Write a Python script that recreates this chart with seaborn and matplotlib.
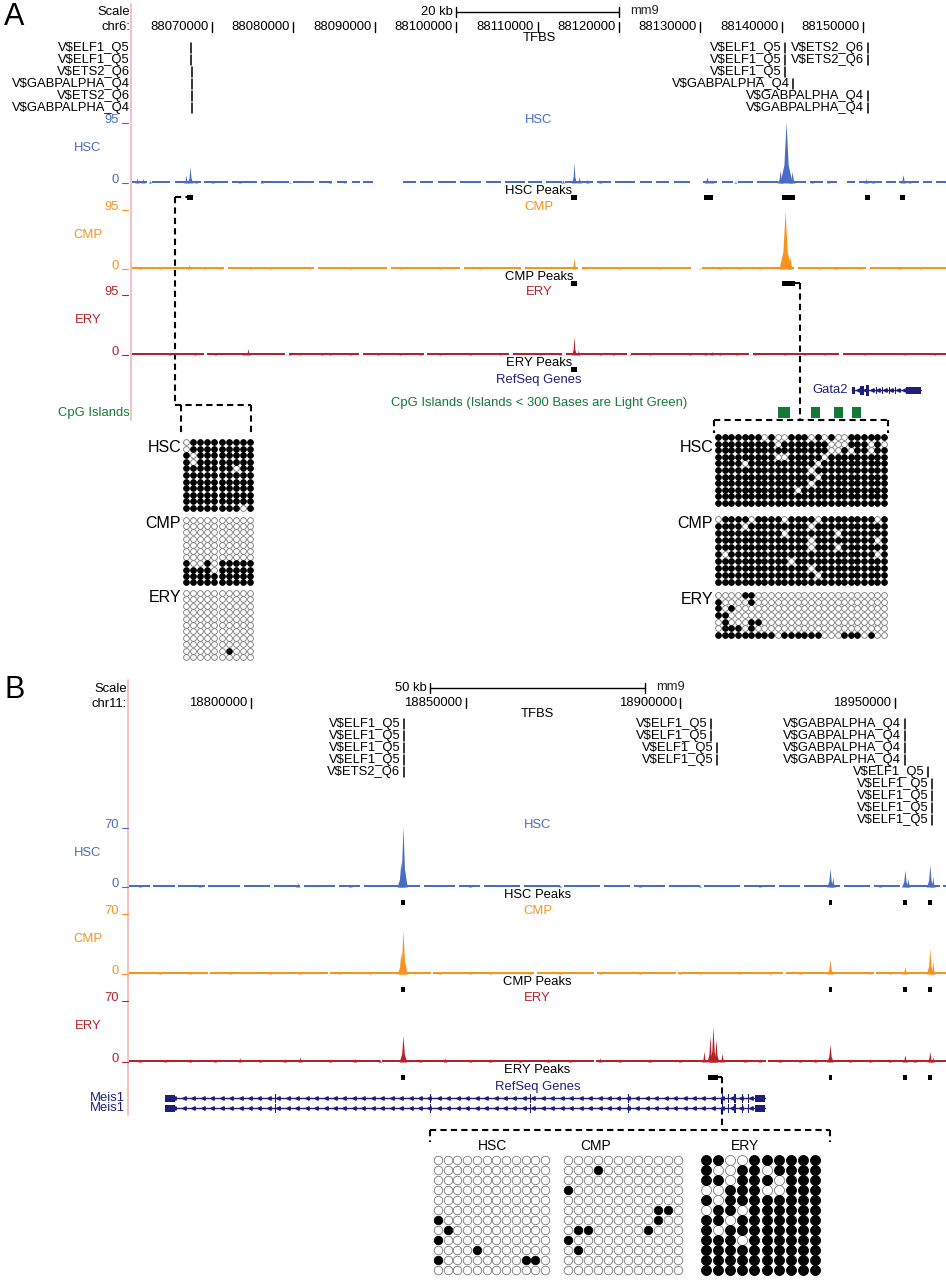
import numpy as np
import pandas as pd
import matplotlib
matplotlib.use("Agg")
import matplotlib.pyplot as plt
import seaborn as sns
from matplotlib.patches import Rectangle

# ======================= DATA =======================
# ---- Panel A : chr6 (positions in kb) ----
A_RANGE = (88060.17, 88160.17)
A_TICKS = [88070, 88080, 88090, 88100, 88110, 88120, 88130, 88140, 88150]
A_SCALE_START, A_SCALE_LEN = 88100.0, 20
A_TFBS_L_NAMES = ["V$ELF1_Q5", "V$ELF1_Q5", "V$ETS2_Q6", "V$GABPALPHA_Q4", "V$ETS2_Q6", "V$GABPALPHA_Q4"]
A_TFBS_L_POS = [88067.42, 88067.42, 88067.60, 88067.60, 88067.60, 88067.60]
A_TFBS_R_NAMES = ["V$ELF1_Q5", "V$ETS2_Q6", "V$ELF1_Q5", "V$ETS2_Q6", "V$ELF1_Q5",
                  "V$GABPALPHA_Q4", "V$GABPALPHA_Q4", "V$GABPALPHA_Q4"]
A_TFBS_R_POS = [88140.39, 88150.59, 88140.39, 88150.59, 88140.39, 88141.38, 88150.59, 88150.59]
A_TFBS_R_ROW = [0, 0, 1, 1, 2, 3, 4, 5]

A_MAX = 95
A_HSC_COV = [(88060.2, 88062.0), (88062.6, 88064.8), (88065.5, 88068.6), (88069.0, 88072.0),
             (88072.5, 88075.5), (88076.0, 88079.5), (88080.0, 88082.5), (88083.2, 88084.8),
             (88085.3, 88086.6), (88087.2, 88088.2), (88088.6, 88089.8), (88093.5, 88095.0),
             (88095.6, 88097.2), (88097.8, 88100.0), (88100.5, 88103.0), (88103.6, 88105.5),
             (88106.0, 88108.4), (88108.8, 88110.5), (88111.0, 88113.0), (88113.4, 88116.8),
             (88117.3, 88119.0), (88119.5, 88122.0), (88122.6, 88124.0), (88124.6, 88126.2),
             (88126.8, 88128.7), (88130.3, 88132.0), (88132.6, 88134.0), (88134.6, 88136.5),
             (88137.0, 88139.5), (88139.8, 88143.0), (88143.5, 88145.0), (88145.5, 88146.8),
             (88148.0, 88149.0), (88149.5, 88152.3), (88152.8, 88154.0), (88154.4, 88156.8),
             (88157.3, 88158.5), (88159.0, 88160.2)]
A_HSC_PK_POS = [88060.79, 88061.52, 88062.38, 88066.80, 88067.30, 88068.03, 88070.10, 88073.40,
                88076.10, 88079.60, 88084.50, 88086.30, 88113.10, 88114.47, 88115.10, 88116.10,
                88117.70, 88130.80, 88131.40, 88134.30, 88139.80, 88140.52, 88141.26, 88143.70,
                88145.70, 88150.34, 88151.20, 88154.89, 88155.70]
A_HSC_PK_H = [8, 7, 4, 12, 26, 5, 4, 3, 4, 2, 3, 2, 5, 32, 10, 6, 3, 10, 5, 3, 20, 95, 18, 3, 3, 7, 4, 13, 3]
A_HSC_PK_W = [0.3, 0.3, 0.25, 0.3, 0.35, 0.25, 0.25, 0.25, 0.25, 0.2, 0.25, 0.2, 0.3, 0.3, 0.3, 0.25,
              0.25, 0.35, 0.3, 0.25, 0.4, 0.75, 0.4, 0.25, 0.25, 0.3, 0.25, 0.35, 0.25]

A_CMP_COV = [(88060.2, 88071.5), (88072.0, 88082.5), (88083.0, 88091.5), (88092.0, 88100.5),
             (88101.0, 88108.0), (88108.5, 88115.0), (88115.5, 88128.8), (88130.2, 88141.5),
             (88142.0, 88150.3), (88150.8, 88160.2)]
A_CMP_PK_POS = [88061.15, 88063.60, 88067.17, 88069.10, 88071.00, 88074.70, 88077.10, 88082.00,
                88087.00, 88093.10, 88098.00, 88102.90, 88107.80, 88114.47, 88115.60, 88120.10,
                88125.00, 88129.90, 88132.40, 88134.90, 88137.30, 88140.40, 88141.00, 88144.70,
                88146.66, 88149.60, 88150.80, 88154.50, 88157.00]
A_CMP_PK_H = [3, 2, 7, 2, 2, 2, 2, 1.8, 2, 2, 2, 2, 2, 18, 3, 2, 2, 2, 3, 2, 2, 92, 20, 2, 5, 2, 2, 4, 2]
A_CMP_PK_W = [0.25, 0.2, 0.3, 0.2, 0.2, 0.2, 0.2, 0.2, 0.2, 0.2, 0.2, 0.2, 0.2, 0.3, 0.25, 0.2,
              0.2, 0.2, 0.25, 0.2, 0.2, 0.75, 0.4, 0.2, 0.3, 0.2, 0.2, 0.25, 0.2]

A_ERY_COV = [(88060.2, 88069.0), (88069.4, 88079.0), (88079.5, 88088.0), (88088.5, 88096.0),
             (88096.4, 88106.5), (88107.0, 88113.0), (88113.5, 88121.0), (88121.5, 88136.0),
             (88136.5, 88147.0), (88147.5, 88160.2)]
A_ERY_PK_POS = [88064.80, 88067.90, 88070.40, 88073.90, 88074.42, 88079.60, 88080.80, 88083.50,
                88084.50, 88087.00, 88090.40, 88093.10, 88095.60, 88098.00, 88101.70, 88105.40,
                88110.30, 88112.75, 88114.47, 88115.00, 88117.70, 88119.30, 88121.35, 88123.80,
                88128.70, 88130.60, 88131.40, 88132.40, 88134.50, 88136.70, 88140.40, 88142.85,
                88145.30, 88150.20, 88155.10, 88158.80]
A_ERY_PK_H = [3, 3, 3, 4, 10, 3, 2, 3, 3, 2, 3, 2, 3, 2, 4, 2, 2, 3, 29, 8, 3, 3, 2, 2, 3, 5, 6, 5,
              4, 2, 3, 3, 2, 2, 2, 2]
A_ERY_PK_W = [0.2] * 4 + [0.3] + [0.2] * 13 + [0.3, 0.25] + [0.2] * 16

A_HSC_PEAKS = [(88066.93, 88067.67), (88114.10, 88114.84), (88130.44, 88131.55), (88140.03, 88141.62),
               (88150.22, 88150.84), (88154.52, 88155.14)]
A_CMP_PEAKS = [(88114.10, 88114.84), (88140.03, 88141.62)]
A_ERY_PEAKS = [(88114.10, 88114.84)]

A_GATA2 = (88148.62, 88157.10)
A_GATA2_EXONS = [(88148.62, 88149.00, 7), (88149.60, 88150.10, 9), (88150.30, 88150.70, 11),
                 (88151.55, 88151.70, 7), (88152.25, 88152.40, 7), (88153.15, 88153.30, 7),
                 (88153.85, 88154.00, 7), (88155.30, 88157.10, 7)]
A_CPG = [(88139.53, 88141.01), (88143.59, 88144.69), (88146.41, 88147.52), (88148.62, 88149.73)]

# methylation (1 = methylated, 0 = unmethylated); rows = clones, columns = CpGs
A_L_HSC = ["0111111111", "0111111111", "1011111111", "1011111111", "1111111011", "1111111111",
           "1111111111", "1111111111", "1111111111", "1111111111", "1111111101"]
A_L_CMP = ["0000000000"] * 7 + ["1001011111", "1111011111", "1111111111", "1111111111"]
A_L_ERY = ["0000000000"] * 9 + ["0000001000", "0000000000"]
A_R_HSC = ["11111110100111010100111111", "11111111101111111000111010", "11111111111111111001011011",
           "11111111100111110111111111", "11110111111111101111111111", "11111111111111011111111111",
           "11111111111111101111111111", "11111111111111011111111111", "11111111111101111111111111",
           "11111111111111111111111111", "11111111111111111111111111"]
A_R_CMP = ["01111011110111101111111101", "11110111111111011111111111", "11111111110111111101111111",
           "11111111111111011111111101", "11111111111111011101111111", "10111111111111111111111101",
           "11111111111011111111111111", "11111111111111011111111111", "11111111111111101111111111",
           "11111111111111111111111111"]
A_R_ERY = ["00001100000000000000000000", "10000100000000000000000000", "10100000000000000000000000",
           "11000000000000000000000000", "01000110000000000000000000", "01110100000000000000000000",
           "11111111101111110001110100"]

# ---- Panel B : chr11 (positions in kb) ----
B_RANGE = (18771.59, 18961.87)
B_TICKS = [18800, 18850, 18900, 18950]
B_SCALE_START, B_SCALE_LEN = 18841.7, 50
B_TFBS_NAMES = ["V$ELF1_Q5"] * 4 + ["V$ETS2_Q6"] + ["V$ELF1_Q5"] * 4 + ["V$GABPALPHA_Q4"] * 4 + ["V$ELF1_Q5"] * 5
B_TFBS_POS = [18835.63] * 5 + [18907.25, 18907.25, 18908.53, 18908.53] + [18952.32] * 4 + [18957.67] + [18958.61] * 4
B_TFBS_ROW = [0, 1, 2, 3, 4, 0, 1, 2, 3, 0, 1, 2, 3, 4, 5, 6, 7, 8]

B_MAX = 70
B_HSC_COV = [(18771.6, 18776.5), (18777.2, 18782.3), (18783.0, 18789.3), (18790.0, 18797.4),
             (18798.4, 18804.4), (18805.4, 18811.4), (18812.3, 18819.6), (18820.5, 18825.4),
             (18826.3, 18834.2), (18834.7, 18839.4), (18840.3, 18847.5), (18848.4, 18853.3),
             (18854.3, 18862.7), (18863.6, 18872.0), (18872.9, 18881.3), (18882.2, 18888.3),
             (18889.2, 18896.4), (18897.4, 18904.6), (18905.5, 18913.9), (18914.8, 18922.0),
             (18923.0, 18927.9), (18928.8, 18937.2), (18938.1, 18944.2), (18945.1, 18951.2),
             (18952.1, 18960.5), (18961.2, 18961.9)]
B_HSC_PK_POS = [18774.1, 18788.1, 18810.9, 18823.1, 18834.9, 18835.4, 18851.0, 18872.0, 18890.6,
                18904.6, 18918.5, 18934.85, 18935.5, 18946.5, 18952.3, 18953.0, 18958.1, 18958.8]
B_HSC_PK_H = [2, 2, 5, 3, 30, 70, 3, 2, 3, 2, 2, 22, 12, 3, 20, 10, 26, 12]
B_HSC_PK_W = [0.5, 0.5, 0.6, 0.5, 0.9, 1.0, 0.5, 0.5, 0.5, 0.5, 0.5, 0.8, 0.6, 0.5, 0.8, 0.6, 0.8, 0.6]

B_CMP_COV = [(18771.6, 18790.0), (18790.5, 18818.0), (18818.5, 18842.0), (18842.5, 18866.0),
             (18866.5, 18880.0), (18880.5, 18899.0), (18899.5, 18924.0), (18924.5, 18945.0),
             (18945.5, 18961.9)]
B_CMP_PK_POS = [18778.8, 18785.8, 18795.1, 18804.4, 18811.4, 18820.7, 18827.7, 18834.9, 18835.4,
                18844.0, 18851.0, 18855.7, 18865.0, 18872.0, 18881.3, 18890.6, 18899.9, 18904.6,
                18913.9, 18920.9, 18927.9, 18934.85, 18944.2, 18948.8, 18952.3, 18958.1, 18958.8]
B_CMP_PK_H = [2, 2, 2, 2, 3, 2, 2, 25, 50, 2, 2, 3, 2, 2, 2, 2, 2, 2, 2, 2, 2, 17, 2, 2, 8, 30, 15]
B_CMP_PK_W = [0.5] * 7 + [0.9, 1.0] + [0.5] * 12 + [0.8, 0.5, 0.5, 0.7, 0.8, 0.6]

B_ERY_COV = [(18771.6, 18830.0), (18830.4, 18880.0), (18880.4, 18920.0), (18920.4, 18961.9)]
B_ERY_PK_POS = [18774.1, 18780.0, 18785.8, 18791.6, 18797.4, 18802.1, 18807.9, 18811.4, 18818.4,
                18824.2, 18830.0, 18835.4, 18839.4, 18845.2, 18851.0, 18855.7, 18862.7, 18869.2,
                18874.3, 18881.3, 18885.9, 18892.9, 18899.9, 18905.5, 18906.9, 18907.6, 18908.3,
                18909.7, 18915.1, 18918.5, 18923.2, 18927.9, 18931.4, 18934.85, 18939.5, 18944.2,
                18948.8, 18952.3, 18954.6, 18958.1, 18958.8]
B_ERY_PK_H = [3, 2, 4, 3, 5, 3, 4, 6, 3, 4, 3, 30, 3, 5, 3, 4, 3, 4, 3, 5, 3, 4, 3, 12, 30, 40, 25,
              10, 4, 3, 4, 3, 4, 20, 3, 4, 3, 8, 3, 12, 6]
B_ERY_PK_W = [0.5] * 11 + [0.9] + [0.5] * 11 + [0.6, 0.7, 0.8, 0.7, 0.6] + [0.5] * 5 + [0.8] + [0.5] * 3 + [0.7, 0.5, 0.7, 0.5]

B_HSC_PEAKS = [(18834.94, 18835.87), (18934.62, 18935.31), (18951.85, 18952.78), (18957.67, 18958.60)]
B_CMP_PEAKS = [(18834.94, 18835.87), (18934.62, 18935.31), (18951.85, 18952.78), (18957.67, 18958.60)]
B_ERY_PEAKS = [(18834.94, 18835.87), (18906.44, 18908.76), (18934.62, 18935.31), (18951.85, 18952.78),
               (18957.67, 18958.60)]

B_MEIS1 = (18779.97, 18919.71)
B_MEIS1_EXONS = [(18779.97, 18782.30, 7), (18805.5, 18805.8, 9), (18841.6, 18841.9, 9), (18864.9, 18865.2, 9),
                 (18887.7, 18888.0, 9), (18909.6, 18909.9, 9), (18911.0, 18911.3, 9), (18912.6, 18912.9, 9),
                 (18914.3, 18914.6, 9), (18915.7, 18916.0, 9), (18917.4, 18919.71, 7)]

B_HSC_M = ["000000000000"] * 6 + ["100000000000", "010000000000", "100000000000", "000010000000",
                                  "100000000110", "000000000000"]
B_CMP_M = ["000000000000", "000100000000", "000000000000", "100000000000", "000000000000",
           "000000000110", "000000000100", "011000001000", "100000000000", "010000000000",
           "000000000000", "000000000000"]
B_ERY_M = ["1100111111", "1001101111", "1101110111", "0011100111", "1011111111", "0110111111",
           "1101111111", "1011111111", "1110111111", "1111111111", "1111111111", "1111111111"]

# ======================= STYLE / LAYOUT =======================
W, H = 946, 1280
C_HSC, C_CMP, C_ERY = "#4a6cc2", "#f7931e", "#b5222b"
C_GENE, C_CPG, C_GUIDE = "#1f1f7a", "#127a36", "#f2b6b6"
FS = 9.4

sns.set_theme(style="white")
plt.rcParams["font.family"] = ["Liberation Sans", "DejaVu Sans"]

fig = plt.figure(figsize=(W / 100, H / 100), dpi=100)
fig.patch.set_facecolor("white")


def add_ax(x0, y0, x1, y1):
    ax = fig.add_axes([x0 / W, 1 - y1 / H, (x1 - x0) / W, (y1 - y0) / H])
    ax.set_axis_off()
    ax.patch.set_visible(False)
    return ax


base = add_ax(0, 0, W, H)
base.set_xlim(0, W)
base.set_ylim(H, 0)


def txt(x, y, s, ha="left", size=FS, color="black", **kw):
    base.text(x, y, s.replace("$", r"\$"), ha=ha, va="center", fontsize=size, color=color, **kw)


def genome_ax(x0, rng):
    ax = add_ax(x0, 0, W, H)
    ax.set_xlim(*rng)
    ax.set_ylim(H, 0)
    return ax


def label_left(ax, pos, y, s, size=FS, color="black"):
    ax.annotate(s.replace("$", r"\$"), xy=(pos, y), xytext=(-2.6, 0), textcoords="offset points",
                ha="right", va="center", fontsize=size, color=color)


def ruler(g, ticks, ty, scale_start, scale_len, sy, unit_label):
    for t in ticks:
        g.plot([t, t], [ty - 5, ty + 5], color="black", lw=1)
        label_left(g, t, ty, f"{t * 1000:.0f}")
    s0, s1 = scale_start, scale_start + scale_len
    g.plot([s0, s1], [sy, sy], color="black", lw=1)
    g.plot([s0, s0], [sy - 5, sy + 5], color="black", lw=1)
    g.plot([s1, s1], [sy - 5, sy + 5], color="black", lw=1)
    label_left(g, s0, sy, unit_label)
    g.annotate("mm9", xy=(s1, sy - 1), xytext=(8, 0), textcoords="offset points", ha="left",
               va="center", fontsize=FS)


def signal(x0, ytop, ybot, rng, ymax, cov, pos, hts, wds, color, cov_h):
    ax = add_ax(x0, ytop, W, ybot)
    ax.set_xlim(*rng)
    ax.set_ylim(0, ymax)
    for s, e in cov:
        ax.fill_between([s, e], [0, 0], [cov_h, cov_h], color=color, lw=0)
    for c, h, w in zip(pos, hts, wds):
        ax.fill_between([c - w, c - 0.35 * w, c, c + 0.35 * w, c + w],
                        [0, 0, 0, 0, 0], [0, 0.3 * h, h, 0.3 * h, 0], color=color, lw=0)
    return ax


def track_labels(ytop, ybot, name, color, ymax, xlab):
    cx = (xlab + W) / 2
    txt(cx, ytop - 2, name, ha="center", color=color)
    txt(88, ytop + 26, name, ha="center", color=color)
    txt(119, ytop - 2, str(ymax), ha="right", color=color)
    txt(119, ybot - 3, "0", ha="right", color=color)
    base.plot([122, 128], [ytop + 1, ytop + 1], color=color, lw=0.8)
    base.plot([122, 128], [ybot, ybot], color=color, lw=0.8)


def peak_blocks(g, blocks, yc):
    for s, e in blocks:
        g.add_patch(Rectangle((s, yc - 2.5), e - s, 5, color="black", lw=0))


def gene(g, span, exons, y, step):
    g.plot(list(span), [y, y], color=C_GENE, lw=1)
    marks = np.arange(span[0] + step, span[1], step)
    g.plot(marks, [y] * len(marks), ls="none", marker="<", ms=2.5, color=C_GENE)
    for s, e, hgt in exons:
        g.add_patch(Rectangle((s, y - hgt / 2), e - s, hgt, color=C_GENE, lw=0))


def meth_grid(rows, x0, x1, y0, y1, d):
    nr, nc = len(rows), len(rows[0])
    dx = (x1 - x0) / (nc - 1)
    dy = (y1 - y0) / (nr - 1)
    ax = add_ax(x0 - dx / 2, y0 - dy / 2, x1 + dx / 2, y1 + dy / 2)
    df = pd.DataFrame([{"cpg": c, "clone": r, "meth": int(ch)}
                       for r, row in enumerate(rows) for c, ch in enumerate(row)])
    s = (d * 0.72) ** 2
    for m, fc, ec in [(0, "white", "#777777"), (1, "black", "black")]:
        sub = df[df.meth == m]
        if len(sub):
            sns.scatterplot(data=sub, x="cpg", y="clone", s=s, color=fc, edgecolor=ec,
                            linewidth=0.6, ax=ax, legend=False, clip_on=False)
    ax.set_xlim(-0.5, nc - 0.5)
    ax.set_ylim(nr - 0.5, -0.5)
    ax.set_axis_off()


DASH = dict(color="black", lw=1.5, ls=(0, (3, 2)))

# ======================= PANEL A =======================
txt(4, 17, "A", size=22)
base.plot([131, 131], [4, 420], color=C_GUIDE, lw=1.2)
txt(130, 12, "Scale", ha="right")
txt(130, 27, "chr6:", ha="right")
gA = genome_ax(132, A_RANGE)
ruler(gA, A_TICKS, 27, A_SCALE_START, A_SCALE_LEN, 12, "20 kb")
txt((132 + W) / 2, 38, "TFBS", ha="center")
for i, (n, p) in enumerate(zip(A_TFBS_L_NAMES, A_TFBS_L_POS)):
    y = 48 + 12 * i
    txt(130, y, n, ha="right")
    gA.plot([p, p], [y - 5, y + 5], color="black", lw=1.1)
for n, p, r in zip(A_TFBS_R_NAMES, A_TFBS_R_POS, A_TFBS_R_ROW):
    y = 48 + 12 * r
    label_left(gA, p, y, n)
    gA.plot([p, p], [y - 5, y + 5], color="black", lw=1.1)

A_TR = [(122, 183, "HSC", C_HSC, A_HSC_COV, A_HSC_PK_POS, A_HSC_PK_H, A_HSC_PK_W, A_HSC_PEAKS),
        (209, 269, "CMP", C_CMP, A_CMP_COV, A_CMP_PK_POS, A_CMP_PK_H, A_CMP_PK_W, A_CMP_PEAKS),
        (294, 355, "ERY", C_ERY, A_ERY_COV, A_ERY_PK_POS, A_ERY_PK_H, A_ERY_PK_W, A_ERY_PEAKS)]
for yt, yb, nm, col, cov, pp, ph, pw, pk in A_TR:
    signal(132, yt, yb, A_RANGE, A_MAX, cov, pp, ph, pw, col, 2.6)
    track_labels(yt, yb, nm, col, A_MAX, 132)
    txt((132 + W) / 2, yb + 8, nm + " Peaks", ha="center")
    peak_blocks(gA, pk, yb + 14)

txt((132 + W) / 2, 380, "RefSeq Genes", ha="center", color=C_GENE)
gene(gA, A_GATA2, A_GATA2_EXONS, 390, 0.8)
label_left(gA, A_GATA2[0], 390, "Gata2", color=C_GENE)
txt(130, 413, "CpG Islands", ha="right", color=C_CPG)
txt((132 + W) / 2, 403, "CpG Islands (Islands < 300 Bases are Light Green)", ha="center", color=C_CPG)
for s, e in A_CPG:
    gA.add_patch(Rectangle((s, 407), e - s, 11, color=C_CPG, lw=0))

# connectors
base.plot([175, 187], [197, 197], **DASH)
base.plot([175, 175], [197, 405], **DASH)
base.plot([175, 251], [405, 405], **DASH)
base.plot([181, 181], [405, 433], **DASH)
base.plot([251, 251], [405, 433], **DASH)
base.plot([795, 800], [283, 283], **DASH)
base.plot([800, 800], [283, 420], **DASH)
base.plot([714, 888], [420, 420], **DASH)
base.plot([714, 714], [420, 433], **DASH)
base.plot([888, 888], [420, 433], **DASH)

# methylation grids A
txt(181, 447, "HSC", ha="right", size=11.5)
txt(181, 523, "CMP", ha="right", size=11.5)
txt(181, 598, "ERY", ha="right", size=11.5)
meth_grid(A_L_HSC, 186, 250, 442, 508, 5.8)
meth_grid(A_L_CMP, 186, 250, 520, 582, 5.8)
meth_grid(A_L_ERY, 186, 250, 593, 657, 5.8)
txt(713, 447, "HSC", ha="right", size=11.5)
txt(713, 523, "CMP", ha="right", size=11.5)
txt(713, 600, "ERY", ha="right", size=11.5)
meth_grid(A_R_HSC, 718, 884, 437, 503, 5.8)
meth_grid(A_R_CMP, 718, 884, 519, 582, 5.8)
meth_grid(A_R_ERY, 718, 884, 595, 635, 5.8)

# ======================= PANEL B =======================
txt(4, 690, "B", size=22)
base.plot([128, 128], [680, 1115], color=C_GUIDE, lw=1.2)
txt(127, 689, "Scale", ha="right")
txt(127, 704, "chr11:", ha="right")
gB = genome_ax(129, B_RANGE)
ruler(gB, B_TICKS, 703, B_SCALE_START, B_SCALE_LEN, 688, "50 kb")
txt((129 + W) / 2, 714, "TFBS", ha="center")
for n, p, r in zip(B_TFBS_NAMES, B_TFBS_POS, B_TFBS_ROW):
    y = 724 + 12 * r
    label_left(gB, p, y, n)
    gB.plot([p, p], [y - 5, y + 5], color="black", lw=1.1)

B_TR = [(827, 887, "HSC", C_HSC, B_HSC_COV, B_HSC_PK_POS, B_HSC_PK_H, B_HSC_PK_W, B_HSC_PEAKS),
        (913, 974, "CMP", C_CMP, B_CMP_COV, B_CMP_PK_POS, B_CMP_PK_H, B_CMP_PK_W, B_CMP_PEAKS),
        (1000, 1062, "ERY", C_ERY, B_ERY_COV, B_ERY_PK_POS, B_ERY_PK_H, B_ERY_PK_W, B_ERY_PEAKS)]
for yt, yb, nm, col, cov, pp, ph, pw, pk in B_TR:
    signal(129, yt, yb, B_RANGE, B_MAX, cov, pp, ph, pw, col, 1.9)
    track_labels(yt, yb, nm, col, B_MAX, 129)
    txt((129 + W) / 2, yb + 8, nm + " Peaks", ha="center")
    peak_blocks(gB, pk, yb + 15)

txt((129 + W) / 2, 1087, "RefSeq Genes", ha="center", color=C_GENE)
for y in (1098, 1108):
    gene(gB, B_MEIS1, B_MEIS1_EXONS, y, 2.2)
    txt(125, y, "Meis1", ha="right", color=C_GENE)

base.plot([718, 722], [1077, 1077], **DASH)
base.plot([722, 722], [1077, 1130], **DASH)
base.plot([430, 830], [1130, 1130], **DASH)
base.plot([430, 430], [1130, 1142], **DASH)
base.plot([830, 830], [1130, 1142], **DASH)

txt(492, 1146, "HSC", ha="center", size=10)
txt(596, 1146, "CMP", ha="center", size=10)
txt(745, 1146, "ERY", ha="center", size=10)
meth_grid(B_HSC_M, 438, 545, 1160, 1270, 8.5)
meth_grid(B_CMP_M, 568, 678, 1160, 1270, 8.5)
meth_grid(B_ERY_M, 706, 815, 1160, 1270, 10)

fig.savefig("out.png", dpi=100, facecolor="white")
